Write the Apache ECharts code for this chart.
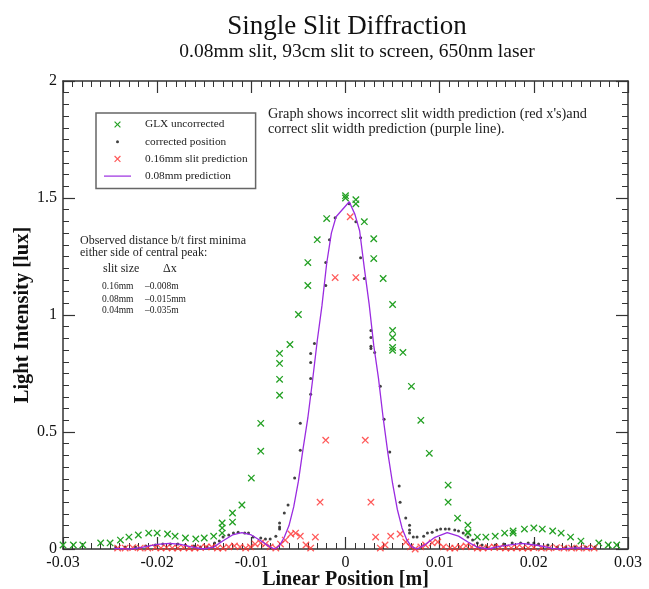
<!DOCTYPE html>
<html>
<head>
<meta charset="utf-8">
<script src="https://cdn.jsdelivr.net/npm/echarts@6/dist/echarts.min.js"></script>
<style>
  html, body { margin: 0; padding: 0; background: #fff; }
  #main { width: 649px; height: 589px; }
</style>
</head>
<body>
<div id="main"></div>
<script>
// Single slit diffraction - measured vs predicted intensity

var xTickLabels = ['-0.03', '-0.02', '-0.01', '0', '0.01', '0.02', '0.03'];
var yTickLabels = ['0', '0.5', '1', '1.5', '2'];

// GLX uncorrected [position m, lux]
var glxUncorrected = [
  [-0.0300, 0.017], [-0.0289, 0.017], [-0.0279, 0.017], [-0.0260, 0.026], [-0.0250, 0.026],
  [-0.0239, 0.038], [-0.0230, 0.051], [-0.0220, 0.060], [-0.0209, 0.068], [-0.0200, 0.068],
  [-0.0189, 0.064], [-0.0181, 0.055], [-0.0170, 0.047], [-0.0159, 0.043], [-0.0150, 0.047],
  [-0.0140, 0.055], [-0.0131, 0.068], [-0.0131, 0.090], [-0.0131, 0.111], [-0.0120, 0.115],
  [-0.0120, 0.154], [-0.0110, 0.188], [-0.0100, 0.303], [-0.0090, 0.418], [-0.0090, 0.537],
  [-0.0070, 0.657], [-0.0070, 0.725], [-0.0070, 0.793], [-0.0070, 0.836], [-0.0059, 0.874],
  [-0.0050, 1.002], [-0.0040, 1.126], [-0.0040, 1.224], [-0.0030, 1.322], [-0.0020, 1.412],
  [0.0000, 1.510], [0.0000, 1.500], [0.0011, 1.493], [0.0011, 1.475], [0.0020, 1.399],
  [0.0030, 1.326], [0.0030, 1.241], [0.0040, 1.156], [0.0050, 1.045], [0.0050, 0.934],
  [0.0050, 0.904], [0.0050, 0.861], [0.0050, 0.849], [0.0061, 0.840], [0.0070, 0.695],
  [0.0080, 0.550], [0.0089, 0.409], [0.0109, 0.273], [0.0109, 0.200], [0.0119, 0.132],
  [0.0130, 0.102], [0.0130, 0.072], [0.0130, 0.068], [0.0140, 0.051], [0.0149, 0.051],
  [0.0159, 0.055], [0.0169, 0.068], [0.0178, 0.077], [0.0178, 0.068], [0.0190, 0.085],
  [0.0200, 0.090], [0.0209, 0.085], [0.0220, 0.077], [0.0229, 0.068], [0.0239, 0.051],
  [0.0250, 0.034], [0.0269, 0.026], [0.0279, 0.017], [0.0288, 0.017]
];

// corrected position
var correctedPosition = [
  [-0.0244, 0.009], [-0.0234, 0.009], [-0.0223, 0.009], [-0.0212, 0.013], [-0.0202, 0.017],
  [-0.0194, 0.021], [-0.0186, 0.021], [-0.0178, 0.021], [-0.0170, 0.017], [-0.0161, 0.013],
  [-0.0154, 0.009], [-0.0147, 0.009], [-0.0139, 0.026], [-0.0134, 0.034], [-0.0130, 0.051],
  [-0.0124, 0.060], [-0.0119, 0.068], [-0.0114, 0.072], [-0.0107, 0.068], [-0.0103, 0.068],
  [-0.0098, 0.051], [-0.0090, 0.047], [-0.0085, 0.043], [-0.0080, 0.043], [-0.0074, 0.055],
  [-0.0070, 0.085], [-0.0070, 0.094], [-0.0070, 0.111], [-0.0065, 0.154], [-0.0061, 0.188],
  [-0.0054, 0.303], [-0.0048, 0.422], [-0.0048, 0.537], [-0.0037, 0.661], [-0.0037, 0.729],
  [-0.0037, 0.797], [-0.0037, 0.836], [-0.0033, 0.878], [-0.0021, 1.126], [-0.0021, 1.224],
  [-0.0017, 1.322], [-0.0011, 1.416], [0.0004, 1.475], [0.0011, 1.399], [0.0016, 1.330],
  [0.0016, 1.245], [0.0020, 1.156], [0.0027, 0.934], [0.0027, 0.904], [0.0027, 0.866],
  [0.0027, 0.857], [0.0031, 0.840], [0.0037, 0.695], [0.0041, 0.554], [0.0047, 0.414],
  [0.0057, 0.269], [0.0058, 0.200], [0.0064, 0.132], [0.0068, 0.102], [0.0068, 0.081],
  [0.0068, 0.068], [0.0072, 0.051], [0.0076, 0.051], [0.0083, 0.055], [0.0087, 0.068],
  [0.0092, 0.072], [0.0097, 0.081], [0.0101, 0.085], [0.0106, 0.085], [0.0110, 0.085],
  [0.0116, 0.081], [0.0120, 0.077], [0.0125, 0.068], [0.0130, 0.051], [0.0135, 0.038],
  [0.0140, 0.026], [0.0145, 0.017], [0.0150, 0.009], [0.0159, 0.017], [0.0168, 0.021],
  [0.0177, 0.026], [0.0186, 0.026], [0.0194, 0.026], [0.0200, 0.026], [0.0205, 0.021],
  [0.0215, 0.017], [0.0225, 0.009], [0.0234, 0.009], [0.0244, 0.009], [0.0255, 0.009],
  [0.0265, 0.009]
];

// 0.16mm slit prediction
var pred016 = [
  [-0.0242, 0.004], [-0.0234, 0.004], [-0.0226, 0.006], [-0.0218, 0.004], [-0.0210, 0.004],
  [-0.0202, 0.006], [-0.0196, 0.004], [-0.0190, 0.006], [-0.0184, 0.004], [-0.0178, 0.004],
  [-0.0172, 0.006], [-0.0166, 0.004], [-0.0160, 0.004], [-0.0154, 0.006], [-0.0148, 0.009],
  [-0.0142, 0.009], [-0.0136, 0.004], [-0.0130, 0.004], [-0.0124, 0.009], [-0.0118, 0.013],
  [-0.0112, 0.009], [-0.0106, 0.004], [-0.0101, 0.009], [-0.0096, 0.021], [-0.0090, 0.026],
  [-0.0085, 0.021], [-0.0080, 0.009], [-0.0074, 0.004], [-0.0069, 0.021], [-0.0064, 0.038],
  [-0.0058, 0.064], [-0.0053, 0.068], [-0.0048, 0.055], [-0.0042, 0.017], [-0.0037, 0.004],
  [-0.0032, 0.051], [-0.0027, 0.200], [-0.0021, 0.465], [-0.0011, 1.160], [0.0005, 1.420],
  [0.0011, 1.160], [0.0021, 0.465], [0.0027, 0.200], [0.0032, 0.051], [0.0037, 0.004],
  [0.0042, 0.017], [0.0048, 0.055], [0.0058, 0.064], [0.0064, 0.030], [0.0069, 0.009],
  [0.0074, 0.000], [0.0080, 0.009], [0.0085, 0.017], [0.0092, 0.026], [0.0098, 0.030],
  [0.0104, 0.009], [0.0111, 0.004], [0.0116, 0.004], [0.0122, 0.009], [0.0128, 0.013],
  [0.0134, 0.009], [0.0140, 0.004], [0.0146, 0.004], [0.0152, 0.006], [0.0158, 0.009],
  [0.0164, 0.006], [0.0170, 0.004], [0.0176, 0.004], [0.0182, 0.006], [0.0188, 0.004],
  [0.0194, 0.004], [0.0200, 0.006], [0.0208, 0.004], [0.0216, 0.004], [0.0224, 0.006],
  [0.0232, 0.004], [0.0240, 0.004], [0.0248, 0.004], [0.0256, 0.004], [0.0264, 0.004]
];

// 0.08mm prediction (line)
var pred008 = [
  [-0.0246, 0.003], [-0.0235, 0.001], [-0.0227, 0.000], [-0.0215, 0.008], [-0.0200, 0.020],
  [-0.0187, 0.024], [-0.0175, 0.020], [-0.0165, 0.010], [-0.0151, 0.000], [-0.0140, 0.008],
  [-0.0130, 0.035], [-0.0120, 0.060], [-0.0110, 0.070], [-0.0100, 0.060], [-0.0090, 0.035],
  [-0.0080, 0.008], [-0.0075, 0.000], [-0.0070, 0.015], [-0.0065, 0.050], [-0.0060, 0.100],
  [-0.0055, 0.180], [-0.0050, 0.290], [-0.0045, 0.430], [-0.0040, 0.560], [-0.0035, 0.720],
  [-0.0030, 0.890], [-0.0025, 1.040], [-0.0020, 1.220], [-0.0015, 1.350], [-0.0010, 1.420],
  [0.0004, 1.484], [0.0010, 1.430], [0.0015, 1.360], [0.0020, 1.200], [0.0025, 1.050],
  [0.0030, 0.870], [0.0035, 0.730], [0.0040, 0.560], [0.0045, 0.410], [0.0050, 0.280],
  [0.0055, 0.170], [0.0060, 0.090], [0.0065, 0.040], [0.0070, 0.010], [0.0076, 0.000],
  [0.0085, 0.020], [0.0095, 0.050], [0.0108, 0.070], [0.0120, 0.055], [0.0130, 0.030],
  [0.0140, 0.008], [0.0151, 0.000], [0.0165, 0.012], [0.0187, 0.024], [0.0205, 0.015],
  [0.0220, 0.003], [0.0227, 0.000], [0.0245, 0.005], [0.0263, 0.002]
];

var serif = '"Liberation Serif", "DejaVu Serif", serif';
// x mark, small dot and short line, padded with move-to corners so legend icons stay small
var xMark = 'path://M0,0M12,12M2,3L3,2L6,5L9,2L10,3L7,6L10,9L9,10L6,7L3,10L2,9L5,6Z';
var dotMark = 'path://M0,0M10,10M3.5,5A1.5,1.5,0,1,0,6.5,5A1.5,1.5,0,1,0,3.5,5Z';
var lineMark = 'path://M0,0M27,10M0,4.4L27,4.4L27,5.6L0,5.6Z';

var frameLine = { onZero: false, lineStyle: { color: '#333', width: 1.5 } };
var tickStyle = { inside: true, length: 12, lineStyle: { color: '#333', width: 1.2 } };
var minorStyle = { show: true, splitNumber: 10, length: 6, lineStyle: { color: '#333', width: 1 } };
var noteColor = '#222';

function tickLabel(list, min, step) {
  return function (v) {
    return list[Math.round((v - min) / step)];
  };
}

function note(text, left, top, size) {
  return { type: 'text', left: left, top: top, style: { text: text, font: size + 'px ' + serif, fill: noteColor } };
}

var chart = echarts.init(document.getElementById('main'));
var option = {
  animation: false,
  backgroundColor: '#fff',
  title: [
    {
      text: 'Single Slit Diffraction',
      left: 342, top: 8, textAlign: 'center',
      textStyle: { fontFamily: serif, fontSize: 27, fontWeight: 'normal', color: '#111' }
    },
    {
      text: '0.08mm slit, 93cm slit to screen, 650nm laser',
      left: 352, top: 37, textAlign: 'center',
      textStyle: { fontFamily: serif, fontSize: 19.5, fontWeight: 'normal', color: '#111' }
    }
  ],
  grid: { left: 63, right: 21, top: 81, bottom: 40, containLabel: false, outerBoundsMode: 'none' },
  legend: {
    orient: 'vertical',
    left: 96, top: 113,
    padding: [6, 8, 7, 8],
    borderColor: '#666', borderWidth: 1.5,
    itemWidth: 27, itemHeight: 10, itemGap: 6.2,
    selectedMode: false,
    textStyle: { fontFamily: serif, fontSize: 11.3, color: '#222', padding: [0, 0, 0, 9] },
    data: [
      { name: 'GLX uncorrected' },
      { name: 'corrected position' },
      { name: '0.16mm slit prediction' },
      { name: '0.08mm prediction', icon: lineMark }
    ]
  },
  xAxis: [
    {
      type: 'value', position: 'bottom',
      min: -0.03, max: 0.03, interval: 0.01,
      name: 'Linear Position [m]', nameLocation: 'middle', nameGap: 21, nameMoveOverlap: false,
      nameTextStyle: { fontFamily: serif, fontSize: 20, fontWeight: 'bold', color: '#111' },
      axisLine: frameLine, axisTick: tickStyle, minorTick: minorStyle,
      splitLine: { show: false },
      axisLabel: {
        margin: 6, fontFamily: serif, fontSize: 16, color: '#111',
        formatter: tickLabel(xTickLabels, -0.03, 0.01)
      }
    },
    {
      type: 'value', position: 'top',
      min: -0.03, max: 0.03, interval: 0.01,
      axisLine: frameLine, axisTick: tickStyle, minorTick: minorStyle,
      splitLine: { show: false }, axisLabel: { show: false }
    }
  ],
  yAxis: [
    {
      type: 'value', position: 'left',
      min: 0, max: 2, interval: 0.5,
      name: 'Light Intensity [lux]', nameLocation: 'middle', nameGap: 30, nameMoveOverlap: false,
      nameTextStyle: { fontFamily: serif, fontSize: 20.5, fontWeight: 'bold', color: '#111' },
      axisLine: frameLine, axisTick: tickStyle, minorTick: minorStyle,
      splitLine: { show: false },
      axisLabel: {
        margin: 6, fontFamily: serif, fontSize: 16, color: '#111',
        formatter: tickLabel(yTickLabels, 0, 0.5)
      }
    },
    {
      type: 'value', position: 'right',
      min: 0, max: 2, interval: 0.5,
      axisLine: frameLine, axisTick: tickStyle, minorTick: minorStyle,
      splitLine: { show: false }, axisLabel: { show: false }
    }
  ],
  series: [
    {
      name: 'GLX uncorrected', type: 'scatter',
      symbol: xMark, symbolSize: 11, symbolKeepAspect: true,
      itemStyle: { color: '#23a023', opacity: 1 },
      data: glxUncorrected
    },
    {
      name: 'corrected position', type: 'scatter',
      symbol: dotMark, symbolSize: 10, symbolKeepAspect: true,
      itemStyle: { color: '#111' },
      data: correctedPosition
    },
    {
      name: '0.16mm slit prediction', type: 'scatter',
      symbol: xMark, symbolSize: 11, symbolKeepAspect: true,
      itemStyle: { color: '#ff3030' },
      data: pred016
    },
    {
      name: '0.08mm prediction', type: 'line',
      symbol: 'none',
      lineStyle: { color: '#9a2be0', width: 1.3 },
      itemStyle: { color: '#9a2be0' },
      data: pred008
    }
  ],
  graphic: [
    {
      type: 'text', left: 268, top: 107,
      style: {
        text: "Graph shows incorrect slit width prediction (red x's)and\ncorrect slit width prediction (purple line).",
        font: '14.3px ' + serif, fill: noteColor, lineHeight: 15
      }
    },
    {
      type: 'text', left: 80, top: 235,
      style: {
        text: 'Observed distance b/t first minima\neither side of central peak:',
        font: '12px ' + serif, fill: noteColor, lineHeight: 11.7
      }
    },
    note('slit size', 103, 263, 12),
    note('Δx', 163, 263, 12),
    note('0.16mm', 102, 281, 9.5),
    note('–0.008m', 145, 281, 9.5),
    note('0.08mm', 102, 294, 9.5),
    note('–0.015mm', 145, 294, 9.5),
    note('0.04mm', 102, 305, 9.5),
    note('–0.035m', 145, 305, 9.5)
  ]
};
chart.setOption(option);
</script>
</body>
</html>
